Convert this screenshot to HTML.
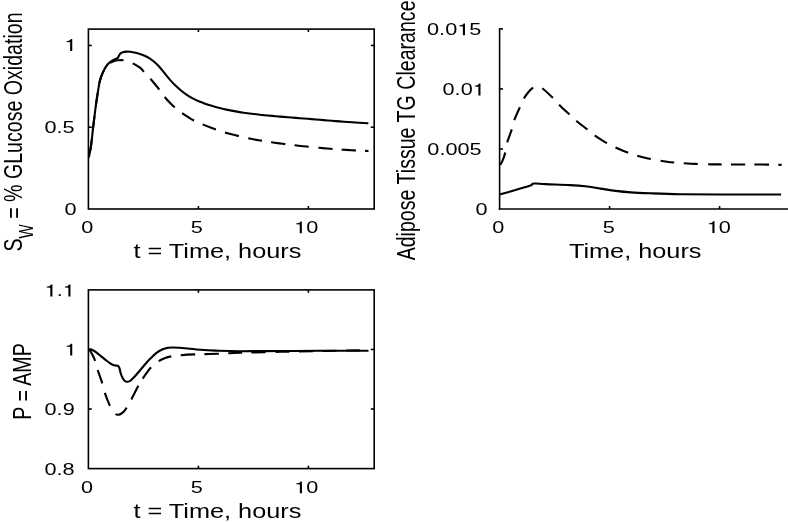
<!DOCTYPE html>
<html><head><meta charset="utf-8"><style>
html,body{margin:0;padding:0;background:#fff;}
svg{display:block;font-family:"Liberation Sans",sans-serif;will-change:transform;}
</style></head><body>
<svg width="788" height="522" viewBox="0 0 788 522">
<rect width="788" height="522" fill="#fff"/>
<rect x="88.4" y="29.1" width="285.80" height="179.90" fill="none" stroke="#000" stroke-width="1.6"/>
<line x1="198.40" y1="209.00" x2="198.40" y2="206.10" stroke="#000" stroke-width="1.6"/>
<line x1="198.40" y1="29.10" x2="198.40" y2="32.00" stroke="#000" stroke-width="1.6"/>
<line x1="308.40" y1="209.00" x2="308.40" y2="206.10" stroke="#000" stroke-width="1.6"/>
<line x1="308.40" y1="29.10" x2="308.40" y2="32.00" stroke="#000" stroke-width="1.6"/>
<line x1="88.40" y1="127.23" x2="91.80" y2="127.23" stroke="#000" stroke-width="1.6"/>
<line x1="374.20" y1="127.23" x2="370.80" y2="127.23" stroke="#000" stroke-width="1.6"/>
<line x1="88.40" y1="45.45" x2="91.80" y2="45.45" stroke="#000" stroke-width="1.6"/>
<line x1="374.20" y1="45.45" x2="370.80" y2="45.45" stroke="#000" stroke-width="1.6"/>
<rect x="88.4" y="289.9" width="285.80" height="178.70" fill="none" stroke="#000" stroke-width="1.6"/>
<line x1="198.40" y1="468.60" x2="198.40" y2="465.70" stroke="#000" stroke-width="1.6"/>
<line x1="198.40" y1="289.90" x2="198.40" y2="292.80" stroke="#000" stroke-width="1.6"/>
<line x1="308.40" y1="468.60" x2="308.40" y2="465.70" stroke="#000" stroke-width="1.6"/>
<line x1="308.40" y1="289.90" x2="308.40" y2="292.80" stroke="#000" stroke-width="1.6"/>
<line x1="88.40" y1="409.03" x2="91.80" y2="409.03" stroke="#000" stroke-width="1.6"/>
<line x1="374.20" y1="409.03" x2="370.80" y2="409.03" stroke="#000" stroke-width="1.6"/>
<line x1="88.40" y1="349.47" x2="91.80" y2="349.47" stroke="#000" stroke-width="1.6"/>
<line x1="374.20" y1="349.47" x2="370.80" y2="349.47" stroke="#000" stroke-width="1.6"/>
<line x1="499.60" y1="28.10" x2="499.60" y2="209.80" stroke="#000" stroke-width="1.6"/>
<line x1="498.80" y1="209.00" x2="788.00" y2="209.00" stroke="#000" stroke-width="1.6"/>
<line x1="609.60" y1="209.00" x2="609.60" y2="206.10" stroke="#000" stroke-width="1.6"/>
<line x1="719.60" y1="209.00" x2="719.60" y2="206.10" stroke="#000" stroke-width="1.6"/>
<line x1="499.60" y1="148.97" x2="503.00" y2="148.97" stroke="#000" stroke-width="1.6"/>
<line x1="499.60" y1="88.93" x2="503.00" y2="88.93" stroke="#000" stroke-width="1.6"/>
<line x1="499.60" y1="28.90" x2="503.00" y2="28.90" stroke="#000" stroke-width="1.6"/>
<text transform="translate(64.53,215.20) scale(1.29,1)" font-size="16.8">0</text>
<text transform="translate(44.47,132.90) scale(1.29,1)" font-size="16.8">0</text>
<text transform="translate(56.52,132.90) scale(1.29,1)" font-size="16.8">.</text>
<text transform="translate(62.54,132.90) scale(1.29,1)" font-size="16.8">5</text>
<path transform="translate(64.47,50.90) scale(0.02167,-0.01680)" d="M359 0L359 703L294 703C282 660 256 625 205 608C172 597 138 593 101 592L101 532L262 520L262 0Z"/>
<text transform="translate(81.13,233.30) scale(1.29,1)" font-size="16.8">0</text>
<text transform="translate(190.80,233.30) scale(1.29,1)" font-size="16.8">5</text>
<path transform="translate(294.08,233.30) scale(0.02167,-0.01680)" d="M359 0L359 703L294 703C282 660 256 625 205 608C172 597 138 593 101 592L101 532L262 520L262 0Z"/>
<text transform="translate(306.13,233.30) scale(1.29,1)" font-size="16.8">0</text>
<text transform="translate(217.40,258.00) scale(1.29,1)" font-size="19.6" text-anchor="middle">t = Time, hours</text>
<path transform="translate(44.63,296.40) scale(0.02167,-0.01680)" d="M359 0L359 703L294 703C282 660 256 625 205 608C172 597 138 593 101 592L101 532L262 520L262 0Z"/>
<text transform="translate(56.68,296.40) scale(1.29,1)" font-size="16.8">.</text>
<path transform="translate(62.70,296.40) scale(0.02167,-0.01680)" d="M359 0L359 703L294 703C282 660 256 625 205 608C172 597 138 593 101 592L101 532L262 520L262 0Z"/>
<path transform="translate(64.47,355.60) scale(0.02167,-0.01680)" d="M359 0L359 703L294 703C282 660 256 625 205 608C172 597 138 593 101 592L101 532L262 520L262 0Z"/>
<text transform="translate(44.57,415.00) scale(1.29,1)" font-size="16.8">0</text>
<text transform="translate(56.62,415.00) scale(1.29,1)" font-size="16.8">.</text>
<text transform="translate(62.65,415.00) scale(1.29,1)" font-size="16.8">9</text>
<text transform="translate(44.48,474.80) scale(1.29,1)" font-size="16.8">0</text>
<text transform="translate(56.53,474.80) scale(1.29,1)" font-size="16.8">.</text>
<text transform="translate(62.56,474.80) scale(1.29,1)" font-size="16.8">8</text>
<text transform="translate(81.03,493.20) scale(1.29,1)" font-size="16.8">0</text>
<text transform="translate(190.80,493.20) scale(1.29,1)" font-size="16.8">5</text>
<path transform="translate(294.18,493.20) scale(0.02167,-0.01680)" d="M359 0L359 703L294 703C282 660 256 625 205 608C172 597 138 593 101 592L101 532L262 520L262 0Z"/>
<text transform="translate(306.23,493.20) scale(1.29,1)" font-size="16.8">0</text>
<text transform="translate(217.40,517.60) scale(1.29,1)" font-size="19.6" text-anchor="middle">t = Time, hours</text>
<text transform="translate(427.07,35.20) scale(1.29,1)" font-size="16.8">0</text>
<text transform="translate(439.12,35.20) scale(1.29,1)" font-size="16.8">.</text>
<text transform="translate(445.15,35.20) scale(1.29,1)" font-size="16.8">0</text>
<path transform="translate(457.19,35.20) scale(0.02167,-0.01680)" d="M359 0L359 703L294 703C282 660 256 625 205 608C172 597 138 593 101 592L101 532L262 520L262 0Z"/>
<text transform="translate(469.24,35.20) scale(1.29,1)" font-size="16.8">5</text>
<text transform="translate(442.58,95.40) scale(1.29,1)" font-size="16.8">0</text>
<text transform="translate(454.62,95.40) scale(1.29,1)" font-size="16.8">.</text>
<text transform="translate(460.65,95.40) scale(1.29,1)" font-size="16.8">0</text>
<path transform="translate(472.70,95.40) scale(0.02167,-0.01680)" d="M359 0L359 703L294 703C282 660 256 625 205 608C172 597 138 593 101 592L101 532L262 520L262 0Z"/>
<text transform="translate(427.37,155.20) scale(1.29,1)" font-size="16.8">0</text>
<text transform="translate(439.42,155.20) scale(1.29,1)" font-size="16.8">.</text>
<text transform="translate(445.45,155.20) scale(1.29,1)" font-size="16.8">0</text>
<text transform="translate(457.49,155.20) scale(1.29,1)" font-size="16.8">0</text>
<text transform="translate(469.54,155.20) scale(1.29,1)" font-size="16.8">5</text>
<text transform="translate(475.48,215.10) scale(1.29,1)" font-size="16.8">0</text>
<text transform="translate(492.28,233.10) scale(1.29,1)" font-size="16.8">0</text>
<text transform="translate(602.70,233.10) scale(1.29,1)" font-size="16.8">5</text>
<path transform="translate(706.73,233.10) scale(0.02167,-0.01680)" d="M359 0L359 703L294 703C282 660 256 625 205 608C172 597 138 593 101 592L101 532L262 520L262 0Z"/>
<text transform="translate(718.78,233.10) scale(1.29,1)" font-size="16.8">0</text>
<text transform="translate(635.20,258.00) scale(1.29,1)" font-size="19.6" text-anchor="middle">Time, hours</text>
<text transform="translate(414.50,130.40) scale(1.29,1) rotate(-90)" font-size="19.6" text-anchor="middle">Adipose Tissue TG Clearance</text>
<text transform="translate(30.70,381.50) scale(1.29,1) rotate(-90)" font-size="19.6" text-anchor="middle">P = AMP</text>
<text transform="translate(21.9,251.5) scale(1.29,1) rotate(-90)" font-size="19.6">S<tspan font-size="15" dy="8.9">W</tspan><tspan dy="-8.9"> = % GLucose Oxidation</tspan></text>
<path d="M88.80,157.60 C89.18,155.55 90.38,150.30 91.10,145.30 C91.82,140.30 92.52,132.58 93.10,127.60 C93.68,122.62 94.08,119.47 94.60,115.40 C95.12,111.33 95.60,107.43 96.20,103.20 C96.80,98.97 97.53,93.93 98.20,90.00 C98.87,86.07 99.27,82.87 100.20,79.60 C101.13,76.33 102.58,72.92 103.80,70.40 C105.02,67.88 106.45,65.90 107.50,64.50 C108.55,63.10 109.17,62.73 110.10,62.00 C111.03,61.27 112.08,60.67 113.10,60.10 C114.12,59.53 115.42,58.97 116.20,58.60 C116.98,58.23 117.38,58.28 117.80,57.90 C118.22,57.52 118.30,56.98 118.70,56.30 C119.10,55.62 119.52,54.48 120.20,53.80 C120.88,53.12 121.78,52.57 122.80,52.20 C123.82,51.83 125.03,51.67 126.30,51.60 C127.57,51.53 128.87,51.60 130.40,51.80 C131.93,52.00 133.82,52.38 135.50,52.80 C137.18,53.22 138.98,53.80 140.50,54.30 C142.02,54.80 143.15,55.17 144.60,55.80 C146.05,56.43 147.67,57.15 149.20,58.10 C150.73,59.05 152.27,60.23 153.80,61.50 C155.33,62.77 157.00,64.25 158.40,65.70 C159.80,67.15 160.92,68.62 162.20,70.20 C163.48,71.78 164.68,73.47 166.10,75.20 C167.52,76.93 169.18,78.92 170.70,80.60 C172.22,82.28 173.53,83.70 175.20,85.30 C176.87,86.90 178.82,88.65 180.70,90.20 C182.58,91.75 184.58,93.28 186.50,94.60 C188.42,95.92 190.28,97.03 192.20,98.10 C194.12,99.17 196.08,100.16 198.00,101.00 C199.92,101.84 201.42,102.34 203.70,103.14 C205.98,103.94 209.03,104.99 211.70,105.80 C214.37,106.61 217.03,107.34 219.70,108.01 C222.37,108.69 225.03,109.29 227.70,109.86 C230.37,110.42 233.03,110.92 235.70,111.39 C238.37,111.86 241.03,112.28 243.70,112.67 C246.37,113.06 249.03,113.41 251.70,113.75 C254.37,114.08 257.03,114.38 259.70,114.67 C262.37,114.96 265.03,115.23 267.70,115.48 C270.37,115.74 273.03,115.98 275.70,116.21 C278.37,116.45 281.03,116.67 283.70,116.89 C286.37,117.11 289.03,117.33 291.70,117.54 C294.37,117.76 297.03,117.97 299.70,118.18 C302.37,118.39 305.03,118.61 307.70,118.82 C310.37,119.03 313.03,119.25 315.70,119.46 C318.37,119.68 321.03,119.89 323.70,120.11 C326.37,120.33 329.03,120.54 331.70,120.76 C334.37,120.97 337.03,121.19 339.70,121.39 C342.37,121.60 345.03,121.81 347.70,122.00 C350.37,122.19 353.03,122.38 355.70,122.55 C358.37,122.72 361.58,122.91 363.70,123.02 C365.82,123.14 367.62,123.21 368.40,123.25" fill="none" stroke="#000" stroke-width="2.1" stroke-linejoin="round"/>
<path d="M88.80,157.60 C89.18,155.55 90.38,150.30 91.10,145.30 C91.82,140.30 92.52,132.58 93.10,127.60 C93.68,122.62 94.08,119.47 94.60,115.40 C95.12,111.33 95.60,107.43 96.20,103.20 C96.80,98.97 97.53,93.93 98.20,90.00 C98.87,86.07 99.27,82.83 100.20,79.60 C101.13,76.37 102.62,72.98 103.80,70.60 C104.98,68.22 106.25,66.57 107.30,65.30 C108.35,64.03 109.05,63.67 110.10,63.00 C111.15,62.33 112.33,61.75 113.60,61.30 C114.87,60.85 116.05,60.48 117.70,60.30 C119.35,60.12 121.78,60.03 123.50,60.20 C125.22,60.37 126.47,60.78 128.00,61.30 C129.53,61.82 130.70,62.25 132.70,63.30 C134.70,64.35 138.15,66.18 140.00,67.60 C141.85,69.02 142.08,69.95 143.80,71.80 C145.52,73.65 148.47,76.67 150.30,78.70 C152.13,80.73 153.32,82.20 154.80,84.00 C156.28,85.80 157.57,87.35 159.20,89.50 C160.83,91.65 162.88,94.77 164.60,96.90 C166.32,99.03 167.82,100.57 169.50,102.30 C171.18,104.03 172.60,105.50 174.70,107.30 C176.80,109.10 179.88,111.48 182.10,113.10 C184.32,114.72 186.02,115.77 188.00,117.00 C189.98,118.23 191.57,119.28 194.00,120.50 C196.43,121.72 199.83,123.16 202.60,124.34 C205.37,125.51 207.93,126.56 210.60,127.58 C213.27,128.59 215.93,129.53 218.60,130.41 C221.27,131.30 223.93,132.12 226.60,132.90 C229.27,133.68 231.93,134.40 234.60,135.08 C237.27,135.76 239.93,136.40 242.60,137.00 C245.27,137.60 247.93,138.16 250.60,138.69 C253.27,139.22 255.93,139.71 258.60,140.18 C261.27,140.66 263.93,141.10 266.60,141.52 C269.27,141.94 271.93,142.34 274.60,142.72 C277.27,143.10 279.93,143.46 282.60,143.81 C285.27,144.16 287.93,144.49 290.60,144.81 C293.27,145.12 295.93,145.43 298.60,145.72 C301.27,146.02 303.93,146.30 306.60,146.57 C309.27,146.84 311.93,147.11 314.60,147.36 C317.27,147.61 319.93,147.86 322.60,148.09 C325.27,148.33 327.93,148.55 330.60,148.77 C333.27,148.98 335.93,149.19 338.60,149.38 C341.27,149.57 343.93,149.75 346.60,149.92 C349.27,150.09 351.93,150.25 354.60,150.38 C357.27,150.52 360.28,150.65 362.60,150.75 C364.92,150.84 367.52,150.91 368.50,150.94" fill="none" stroke="#000" stroke-width="2.1" stroke-dasharray="0.00 5.12 13.60 9.80 13.60 9.80 13.60 9.80 13.60 9.80 13.81 9.76 14.16 9.48 14.00 9.16 14.51 9.40 14.02 9.42 14.16 9.53 14.36 9.70 13.97 9.18 14.40 9.27 14.21 9.78 14.18 9.09 14.31 9.13 3.56 50.00" stroke-linejoin="round"/>
<path d="M500.10,194.40 C500.95,194.15 500.38,194.28 505.20,192.90 C510.02,191.52 524.43,187.62 529.00,186.10 C533.57,184.58 531.50,184.23 532.60,183.80 C533.70,183.37 533.40,183.45 535.60,183.50 C537.80,183.55 540.07,183.83 545.80,184.10 C551.53,184.37 563.43,184.73 570.00,185.10 C576.57,185.47 580.12,185.72 585.20,186.30 C590.28,186.88 595.42,187.83 600.50,188.60 C605.58,189.37 610.63,190.27 615.70,190.90 C620.77,191.53 625.18,192.00 630.90,192.40 C636.62,192.80 641.82,193.00 650.00,193.30 C658.18,193.60 668.33,194.00 680.00,194.20 C691.67,194.40 703.15,194.45 720.00,194.50 C736.85,194.55 770.92,194.50 781.10,194.50" fill="none" stroke="#000" stroke-width="2.1" stroke-linejoin="round"/>
<path d="M499.90,164.90 C500.20,164.48 501.07,163.60 501.70,162.40 C502.33,161.20 503.12,159.37 503.70,157.70 C504.28,156.03 504.62,154.95 505.20,152.40 C505.78,149.85 506.10,146.23 507.20,142.40 C508.30,138.57 510.62,133.12 511.80,129.40 C512.98,125.68 513.38,122.83 514.30,120.10 C515.22,117.37 516.37,115.13 517.30,113.00 C518.23,110.87 518.80,109.70 519.90,107.30 C521.00,104.90 522.47,101.15 523.90,98.60 C525.33,96.05 526.97,93.82 528.50,92.00 C530.03,90.18 531.68,88.60 533.10,87.70 C534.52,86.80 535.48,86.52 537.00,86.60 C538.52,86.68 539.58,86.33 542.20,88.20 C544.82,90.07 549.90,95.07 552.70,97.80 C555.50,100.53 556.18,101.80 559.00,104.60 C561.82,107.40 566.73,111.92 569.60,114.60 C572.47,117.28 573.25,118.23 576.20,120.70 C579.15,123.17 584.17,126.92 587.30,129.40 C590.43,131.88 592.38,133.71 595.00,135.61 C597.62,137.50 600.33,139.18 603.00,140.79 C605.67,142.40 608.33,143.88 611.00,145.26 C613.67,146.65 616.33,147.91 619.00,149.08 C621.67,150.26 624.33,151.33 627.00,152.32 C629.67,153.31 632.33,154.20 635.00,155.02 C637.67,155.85 640.33,156.59 643.00,157.26 C645.67,157.94 648.33,158.54 651.00,159.09 C653.67,159.64 656.33,160.12 659.00,160.55 C661.67,160.99 664.33,161.37 667.00,161.71 C669.67,162.05 672.33,162.34 675.00,162.59 C677.67,162.85 680.33,163.06 683.00,163.25 C685.67,163.44 688.33,163.59 691.00,163.73 C693.67,163.86 696.33,163.96 699.00,164.05 C701.67,164.14 704.33,164.21 707.00,164.26 C709.67,164.32 712.33,164.35 715.00,164.38 C717.67,164.41 720.33,164.43 723.00,164.44 C725.67,164.46 728.33,164.46 731.00,164.47 C733.67,164.48 736.33,164.48 739.00,164.48 C741.67,164.48 744.33,164.48 747.00,164.49 C749.67,164.50 752.33,164.50 755.00,164.52 C757.67,164.53 760.33,164.55 763.00,164.57 C765.67,164.60 768.33,164.63 771.00,164.66 C773.67,164.70 777.23,164.76 779.00,164.79 C780.77,164.82 781.17,164.83 781.60,164.84" fill="none" stroke="#000" stroke-width="2.1" stroke-dasharray="13.71 10.20 13.79 9.63 13.98 9.58 14.38 9.71 14.24 9.27 14.37 9.19 14.10 9.57 14.33 9.60 13.72 9.54 14.02 9.89 13.71 9.63 14.02 10.40 13.60 9.20 14.27 9.07 14.67 9.11 3.62 50.00" stroke-linejoin="round"/>
<path d="M89.10,349.30 C89.63,349.42 91.10,349.50 92.30,350.00 C93.50,350.50 94.87,351.28 96.30,352.30 C97.73,353.32 99.37,354.85 100.90,356.10 C102.43,357.35 103.97,358.60 105.50,359.80 C107.03,361.00 108.65,362.38 110.10,363.30 C111.55,364.22 112.93,364.88 114.20,365.30 C115.47,365.72 116.95,365.58 117.70,365.80 C118.45,366.02 118.38,366.13 118.70,366.60 C119.02,367.07 119.27,367.50 119.60,368.60 C119.93,369.70 120.22,371.67 120.70,373.20 C121.18,374.73 121.82,376.50 122.50,377.80 C123.18,379.10 124.03,380.33 124.80,381.00 C125.57,381.67 126.25,381.80 127.10,381.80 C127.95,381.80 128.75,381.77 129.90,381.00 C131.05,380.23 132.47,378.78 134.00,377.20 C135.53,375.62 137.35,373.53 139.10,371.50 C140.85,369.47 142.62,367.15 144.50,365.00 C146.38,362.85 148.40,360.62 150.40,358.60 C152.40,356.58 154.53,354.42 156.50,352.90 C158.47,351.38 160.28,350.35 162.20,349.50 C164.12,348.65 166.08,348.13 168.00,347.80 C169.92,347.47 171.78,347.50 173.70,347.50 C175.62,347.50 177.55,347.67 179.50,347.80 C181.45,347.93 181.88,347.97 185.40,348.30 C188.92,348.63 195.53,349.42 200.60,349.80 C205.67,350.18 209.23,350.37 215.80,350.60 C222.37,350.83 229.30,351.13 240.00,351.20 C250.70,351.27 266.67,351.07 280.00,351.00 C293.33,350.93 305.25,350.85 320.00,350.80 C334.75,350.75 360.42,350.72 368.50,350.70" fill="none" stroke="#000" stroke-width="2.1" stroke-linejoin="round"/>
<path d="M89.10,349.40 C89.58,350.17 90.98,352.08 92.00,354.00 C93.02,355.92 94.25,358.23 95.20,360.90 C96.15,363.57 96.52,366.25 97.70,370.00 C98.88,373.75 101.12,379.58 102.30,383.40 C103.48,387.22 103.53,389.15 104.80,392.90 C106.07,396.65 108.57,402.88 109.90,405.90 C111.23,408.92 111.87,409.63 112.80,411.00 C113.73,412.37 114.57,413.48 115.50,414.10 C116.43,414.72 117.40,414.80 118.40,414.70 C119.40,414.60 120.52,414.12 121.50,413.50 C122.48,412.88 123.45,411.97 124.30,411.00 C125.15,410.03 125.43,409.62 126.60,407.70 C127.77,405.78 129.45,402.95 131.30,399.50 C133.15,396.05 135.82,390.47 137.70,387.00 C139.58,383.53 140.40,381.95 142.60,378.70 C144.80,375.45 148.25,370.40 150.90,367.50 C153.55,364.60 156.23,362.83 158.50,361.30 C160.77,359.77 162.40,359.12 164.50,358.30 C166.60,357.48 168.37,356.92 171.10,356.40 C173.83,355.88 176.92,355.53 180.90,355.20 C184.88,354.87 188.70,354.65 195.00,354.40 C201.30,354.15 211.20,353.97 218.70,353.70 C226.20,353.43 229.78,353.12 240.00,352.80 C250.22,352.48 266.67,352.10 280.00,351.80 C293.33,351.50 305.25,351.27 320.00,351.00 C334.75,350.73 360.42,350.33 368.50,350.20" fill="none" stroke="#000" stroke-width="2.1" stroke-dasharray="0.00 0.26 12.80 9.44 14.17 9.83 13.97 10.02 14.17 9.45 15.17 8.52 13.95 9.83 13.61 9.48 14.52 9.32 14.39 9.33 14.11 9.16 13.98 9.97 13.94 9.67 14.02 9.45 14.10 9.43 13.77 58.92" stroke-linejoin="round"/>
</svg>
</body></html>
